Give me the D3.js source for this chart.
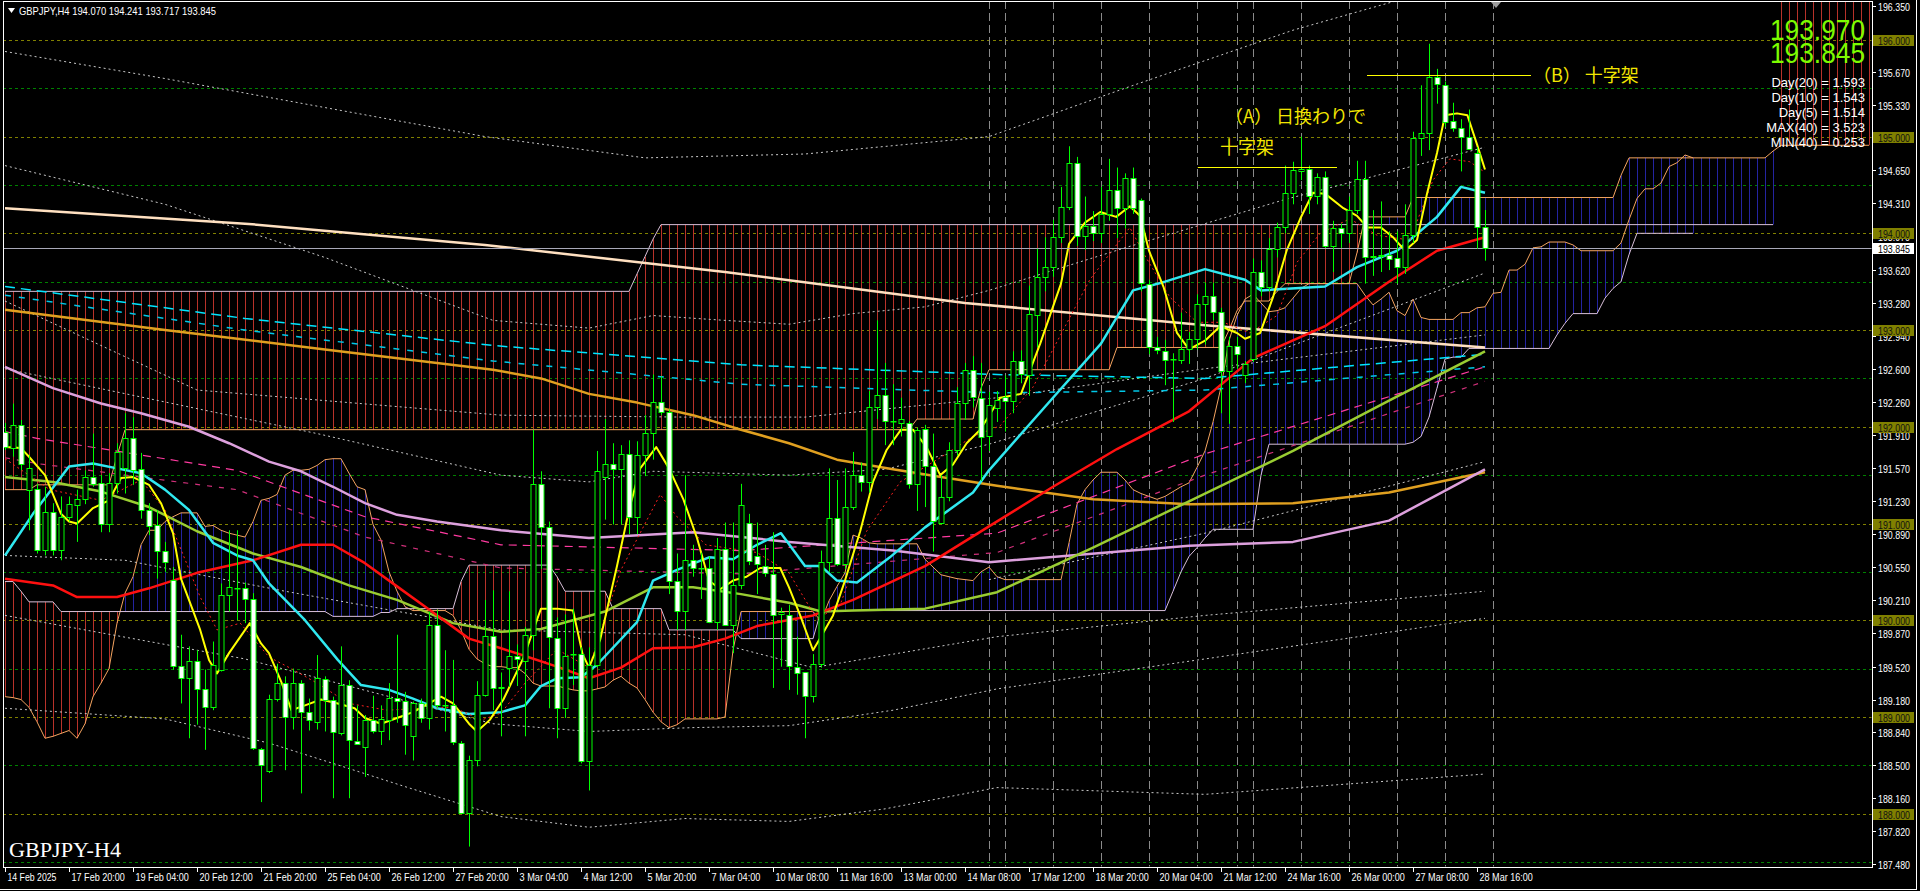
<!DOCTYPE html>
<html><head><meta charset="utf-8">
<script src="https://cdn.jsdelivr.net/npm/d3@7"></script>
<style>html,body{margin:0;padding:0;background:#000;overflow:hidden}</style>
</head><body><svg id="c" width="1920" height="891"></svg>
<script>
// ---------------- DATA ----------------
const opens=[191.95,191.78,192.02,191.35,191.36,190.73,191.12,190.73,191.07,191.19,191.25,191.48,191.42,191.00,191.42,191.57,191.88,191.56,191.14,190.98,190.72,190.42,189.53,189.40,189.58,189.29,189.10,189.49,190.26,190.33,190.33,190.22,188.67,188.44,189.19,189.35,189.00,189.35,189.05,188.95,189.39,189.18,188.83,189.33,188.75,188.69,188.97,188.85,188.97,189.20,189.17,188.80,189.14,188.99,189.95,189.12,189.12,188.73,188.01,188.56,189.23,189.84,189.30,189.51,189.63,189.58,189.85,191.41,190.96,189.82,189.09,189.65,189.65,188.54,189.54,191.48,191.62,191.56,191.72,191.07,191.71,191.94,192.26,192.15,190.41,190.10,190.62,190.54,190.54,189.98,190.74,189.95,190.36,191.01,190.66,190.56,190.48,190.06,190.05,189.52,189.46,189.22,189.55,190.60,191.06,190.58,191.17,191.50,191.43,192.20,192.33,192.06,192.04,192.04,191.41,191.98,191.59,191.01,191.27,191.76,192.25,192.59,192.30,191.90,192.19,192.31,192.27,192.68,192.54,193.16,193.55,193.65,193.96,194.27,194.73,193.97,194.08,194.00,194.20,194.45,194.26,194.57,194.34,193.48,192.82,192.78,192.70,192.69,192.80,192.91,193.27,193.35,193.19,192.58,192.83,192.54,192.70,193.60,193.44,193.84,194.07,194.42,194.64,194.66,194.39,194.58,193.87,194.05,194.00,194.24,194.56,193.76,193.77,193.78,193.74,193.65,193.98,194.99,195.04,195.62,195.53,195.16,195.09,195.00,194.83,194.070];
const highs=[192.04,192.24,192.07,191.71,191.41,191.38,191.21,191.28,191.28,191.35,191.55,191.93,191.50,191.52,191.83,192.14,192.10,191.73,191.21,191.14,190.81,190.55,189.85,189.73,189.69,189.49,189.78,190.38,190.93,190.93,190.39,190.28,188.68,189.23,189.55,189.42,189.50,189.38,189.19,189.64,189.42,189.21,189.73,189.38,189.12,189.02,189.22,189.12,189.35,189.85,189.26,189.16,189.19,190.09,190.11,189.69,189.59,188.75,188.60,189.37,190.21,190.31,189.46,190.30,189.75,189.93,191.97,191.54,191.02,190.03,190.06,190.12,189.72,189.72,191.75,192.08,191.83,191.81,191.86,191.85,192.12,192.54,192.52,192.18,190.69,191.50,190.78,190.70,190.66,190.85,191.01,191.01,191.41,191.10,191.01,190.78,190.91,190.13,190.16,189.83,189.46,189.65,190.72,191.57,191.45,191.57,191.74,191.63,192.37,193.10,192.66,192.44,192.30,192.06,191.99,192.02,191.93,191.50,191.84,192.41,192.66,192.73,192.66,192.36,192.37,192.53,192.78,192.79,193.46,193.84,193.96,194.14,194.48,194.90,194.79,194.38,194.23,194.48,194.77,194.68,194.62,194.68,194.36,193.52,192.93,192.90,192.76,193.18,192.98,193.37,193.49,193.49,193.23,192.93,192.93,192.68,193.74,193.72,193.95,194.11,194.70,194.74,195.00,194.70,194.62,194.64,194.13,194.10,194.38,194.75,194.75,194.24,194.33,194.02,194.02,194.30,195.05,195.53,195.96,195.70,195.57,195.35,195.18,195.28,194.89,194.241];
const lows=[191.76,191.69,191.55,190.93,190.69,190.67,190.67,190.62,191.02,190.81,191.20,191.38,190.91,190.91,191.31,191.31,191.40,191.05,190.88,190.43,190.50,189.49,189.14,188.78,188.92,188.66,189.07,189.47,190.09,190.00,189.97,188.66,188.12,188.42,189.16,188.45,188.87,188.21,188.86,188.87,188.85,188.16,188.81,188.16,188.71,188.38,188.83,188.71,188.76,188.94,188.61,188.55,188.94,188.87,189.09,188.85,188.71,188.00,187.66,188.49,189.21,189.07,188.80,189.31,189.32,188.80,189.69,190.53,189.09,188.78,188.99,189.33,188.52,188.24,189.51,191.04,190.99,190.99,190.89,190.89,191.49,191.66,192.12,190.27,189.90,189.90,190.45,190.22,189.97,189.90,189.94,189.66,190.32,190.57,190.27,190.45,189.30,189.52,189.28,189.23,188.78,189.15,189.51,190.50,190.56,190.53,191.14,191.33,191.32,192.08,191.81,191.81,191.90,191.36,191.13,191.17,190.71,190.99,191.23,191.70,192.07,192.20,191.44,191.75,192.05,191.95,192.14,192.45,192.32,192.82,193.40,193.55,193.90,194.24,193.87,193.83,193.92,193.90,194.13,193.95,194.05,194.20,193.40,192.75,192.75,192.43,192.05,192.65,192.65,192.80,192.85,193.10,192.14,192.03,192.60,192.45,192.67,193.35,193.40,193.75,194.00,194.30,194.55,194.20,194.30,193.85,193.60,193.85,193.90,194.20,193.48,193.56,193.60,193.62,193.48,193.58,193.90,194.80,194.86,195.34,195.10,195.05,194.64,194.90,193.84,193.717];
const closes=[191.79,192.02,191.62,191.57,190.73,191.12,190.73,191.07,191.20,191.25,191.48,191.41,191.00,191.42,191.74,191.88,191.55,191.14,190.97,190.72,190.60,189.53,189.40,189.58,189.29,189.10,189.54,190.26,190.34,190.33,190.22,188.68,188.50,189.19,189.35,189.00,189.35,189.05,188.97,189.40,189.18,188.84,189.33,188.76,188.72,188.97,188.85,188.98,189.20,189.17,188.92,189.14,188.99,189.95,189.12,189.12,188.74,188.01,188.56,189.23,189.84,189.30,189.31,189.63,189.60,189.85,191.41,190.96,189.83,189.09,189.63,189.65,188.54,189.54,191.54,191.62,191.56,191.72,191.07,191.71,191.94,192.26,192.15,190.41,190.10,190.62,190.54,190.54,189.98,190.74,189.95,190.36,191.19,190.61,190.58,190.49,190.05,190.09,189.53,189.45,189.22,189.55,190.60,191.06,190.58,191.17,191.50,191.43,192.20,192.33,192.06,192.06,192.08,191.41,191.97,191.59,191.03,191.27,191.76,192.25,192.59,192.31,191.89,192.23,192.28,192.27,192.68,192.55,193.17,193.55,193.65,193.96,194.27,194.73,193.97,194.08,194.00,194.20,194.45,194.26,194.57,194.26,193.49,192.82,192.79,192.69,192.70,192.80,192.91,193.27,193.35,193.19,192.58,192.83,192.75,192.65,193.60,193.44,193.84,194.07,194.42,194.65,194.67,194.39,194.58,193.87,194.06,194.00,194.24,194.56,193.76,193.77,193.78,193.73,193.65,193.98,194.99,195.04,195.62,195.54,195.15,195.09,195.00,194.87,194.07,193.845];

const timeLabels=["14 Feb 2025","17 Feb 20:00","19 Feb 04:00","20 Feb 12:00","21 Feb 20:00","25 Feb 04:00","26 Feb 12:00","27 Feb 20:00","3 Mar 04:00","4 Mar 12:00","5 Mar 20:00","7 Mar 04:00","10 Mar 08:00","11 Mar 16:00","13 Mar 00:00","14 Mar 08:00","17 Mar 12:00","18 Mar 20:00","20 Mar 04:00","21 Mar 12:00","24 Mar 16:00","26 Mar 00:00","27 Mar 08:00","28 Mar 16:00"];
const timeLabelBars=[0,8,16,24,32,40,48,56,64,72,80,88,96,104,112,120,128,136,144,152,160,168,176,184];
const separatorBars=[123,125,131,137,143,149,154,156,162,168,174,180,186];

const priceTicks=[196.350,195.670,195.330,194.650,194.310,193.970,193.620,193.280,192.940,192.600,192.260,191.910,191.570,191.230,190.890,190.550,190.210,189.870,189.520,189.180,188.840,188.500,188.160,187.820,187.480];
const levelTicks=[196,195,194,193,192,191,190,189,188];
const halfLevels=[195.5,194.5,193.5,192.5,191.5,190.5,189.5,188.5,187.5];
const lastPrice=193.845;

// moving averages: [bar index, price]
const maYellow=[[0,191.79],[2,191.78],[3,191.69],[5,191.5],[7,191.1],[8,191.02],[9,191.0],[11,191.16],[13,191.24],[14.5,191.47],[16,191.48],[18,191.4],[19.5,191.21],[21,190.9],[22,190.43],[24.4,189.9],[25.5,189.59],[26.5,189.45],[28,189.66],[30.6,189.97],[32,189.76],[33,189.66],[34.6,189.35],[35.8,189.07],[37.5,189.12],[39.5,189.18],[41.6,189.14],[43.7,189.09],[45,188.99],[47,188.93],[49,188.99],[51,189.05],[53,189.14],[54.5,189.21],[56,189.14],[58,188.93],[59,188.85],[60.6,188.97],[62.3,189.18],[64.8,189.61],[67,190.12],[69,190.12],[71,190.1],[72.2,189.65],[73,189.51],[74.4,189.8],[76.5,190.56],[78,191.14],[79.4,191.57],[81.4,191.79],[83,191.57],[84.8,191.25],[86.5,190.85],[88,190.41],[89.4,190.32],[91,190.41],[92.7,190.45],[94.4,190.54],[96.9,190.54],[98,190.34],[99.4,190.05],[101,189.69],[102,189.83],[103.5,190.05],[105,190.41],[106.9,190.92],[108.5,191.43],[110.2,191.76],[112,191.97],[113.5,191.97],[115.2,191.79],[116.9,191.5],[118.5,191.61],[120.2,191.83],[121.9,191.97],[124.4,192.3],[127,192.34],[129.4,192.86],[132,193.48],[133,193.89],[135,194.11],[136.9,194.22],[138.9,194.17],[140.6,194.28],[141.9,194.18],[143,193.82],[144.8,193.45],[146.5,192.97],[148,192.8],[150,192.89],[151.9,193.04],[154,192.97],[155,192.91],[156.9,192.97],[158.5,193.34],[160.2,193.82],[161.9,194.15],[163.5,194.42],[165,194.41],[167.3,194.26],[169,194.18],[170.3,194.06],[172,194.06],[173.5,193.96],[175,193.82],[176.5,193.93],[177.7,194.39],[179,194.83],[180,195.22],[181.5,195.24],[182.8,195.22],[184,194.92],[185,194.66]];
const maRedDot=[[0,191.67],[5.6,191.35],[12,191.24],[17,191.45],[20,191.14],[24.4,190.24],[26.5,189.9],[29.4,189.97],[33,189.62],[36,189.49],[39,189.35],[43,189.14],[47.8,189.07],[52,189.09],[56,189.1],[59.6,188.97],[62,189.04],[65,189.35],[69,189.7],[73,189.51],[77,190.52],[81.9,191.3],[84,191.07],[87.6,190.78],[94,190.7],[98,190.49],[101.5,190.01],[104.4,190.16],[107.7,190.92],[111.9,191.43],[116.9,191.68],[121,191.9],[124.4,192.01],[128.5,192.41],[135.6,193.52],[140.6,194.06],[142.7,193.74],[145.6,193.34],[149,193.08],[152.3,193.08],[155.6,192.97],[159,193.15],[161.5,193.7],[164.4,194.0],[168.1,194.15],[171.5,193.98],[175.6,193.93],[178.5,194.55],[180.6,194.77],[183.1,194.74],[185,194.63]];
const maCyan=[[0,190.67],[3.5,191.1],[8,191.59],[11,191.62],[14,191.57],[17,191.52],[20,191.35],[23,191.14],[26,190.8],[29,190.67],[31,190.62],[33,190.38],[37.5,190.0],[41.6,189.59],[44.5,189.33],[48,189.28],[51,189.19],[54,189.09],[58,189.03],[62,189.05],[65,189.12],[67,189.32],[69,189.4],[72,189.41],[74,189.54],[79,189.98],[81,190.41],[84,190.52],[88,190.65],[91,190.63],[94,190.78],[97,190.9],[100,190.56],[102,190.56],[104,190.41],[106.5,190.39],[110.6,190.65],[115,190.96],[121,191.32],[123,191.55],[131,192.3],[137,192.86],[141,193.41],[145,193.5],[150,193.63],[155,193.52],[157,193.41],[165,193.45],[169,193.65],[174,193.82],[179,194.17],[182,194.48],[185,194.42]];
const maRed=[[0,190.43],[6,190.36],[9,190.24],[14,190.24],[18,190.33],[24,190.49],[31,190.62],[37,190.78],[41,190.78],[45,190.59],[49,190.35],[53,190.11],[58,189.81],[62,189.71],[65,189.63],[69,189.52],[73,189.4],[77,189.51],[81,189.71],[86,189.72],[90,189.81],[94,189.94],[101,190.05],[106,190.21],[115,190.56],[123,190.97],[131,191.38],[139,191.77],[148,192.16],[156,192.71],[165,193.04],[173,193.5],[179,193.82],[185,193.96]];
const maGreen=[[0,191.48],[6,191.43],[12,191.33],[18,191.17],[24,190.92],[31,190.69],[37,190.55],[43,190.36],[49,190.21],[56,189.97],[62,189.88],[67,189.91],[71,190.0],[75,190.09],[81,190.34],[86,190.34],[92,190.27],[98,190.18],[102,190.09],[106,190.1],[115,190.12],[124,190.29],[136,190.75],[148,191.23],[161,191.75],[173,192.27],[185,192.78]];
const maPlum=[[0,192.62],[6,192.4],[12,192.24],[17,192.14],[23,192.0],[28,191.83],[33,191.64],[37,191.54],[41,191.38],[45,191.21],[49,191.09],[54,191.02],[62,190.93],[73,190.85],[86,190.91],[98,190.81],[111,190.72],[123,190.6],[148,190.77],[161,190.81],[173,191.03],[185,191.56]];
const maOrange=[[0,193.21],[20,193.0],[40,192.8],[61,192.59],[67,192.5],[73,192.34],[79,192.25],[86,192.12],[92,191.97],[98,191.83],[104,191.66],[111,191.56],[117,191.48],[124,191.39],[136,191.25],[148,191.2],[161,191.21],[173,191.32],[185,191.53]];
const maCream=[[0,194.26],[30,194.1],[60,193.88],[90,193.6],[120,193.28],[150,193.05],[185,192.82]];
const maCyanDashA=[[0,193.45],[30,193.12],[61,192.84],[92,192.64],[124,192.54],[150,192.5],[185,192.75]];
const maCyanDashB=[[0,193.36],[30,193.0],[61,192.68],[92,192.44],[124,192.35],[150,192.38],[185,192.62]];
const maPinkDashA=[[0,191.95],[4,191.88],[29,191.55],[45,191.07],[62,190.78],[92,190.72],[124,190.9],[150,191.72],[185,192.62]];
const maPinkDashB=[[0,191.68],[4,191.62],[29,191.35],[45,190.86],[62,190.54],[92,190.48],[124,190.7],[150,191.5],[185,192.47]];
// deviation bands (dotted)
const band1=[[0,195.88],[20,195.6],[40,195.3],[60,195.0],[80,194.78],[100,194.82],[123,195.0],[140,195.5],[161,196.1],[178,196.5]];
const band2=[[0,194.7],[20,194.3],[40,193.75],[61,193.1],[73,193.02],[81,193.15],[90,193.1],[98,193.06],[106,193.17],[115,193.24],[123,193.41],[140,193.85],[160,194.35],[185,194.89]];
const band3=[[0,193.3],[24,192.38],[62,192.12],[85,192.1],[100,192.1],[124,192.3],[150,192.6],[185,192.95]];
const band4=[[0,192.6],[39,191.93],[62,191.5],[73,191.43],[81,191.54],[98,191.5],[110,191.56],[123,191.82],[150,192.5],[185,193.59]];
const band5=[[0,190.67],[15,190.62],[35,190.3],[62,189.9],[85,189.85],[101,189.51],[124,189.83],[150,190.05],[185,190.3]];
const band6=[[0,190.05],[30,189.6],[61,188.93],[73,188.85],[86,188.89],[98,188.91],[111,189.07],[124,189.29],[150,189.6],[185,190.02]];
const band7=[[0,189.09],[20,188.98],[33,188.73],[41,188.52],[50,188.28],[62,187.97],[73,187.86],[85,187.95],[98,187.92],[110,188.05],[124,188.27],[150,188.2],[185,188.41]];
const band8=[[123,190.42],[150,190.9],[185,191.64]];

// Ichimoku (H4) spans, one value per bar (incl. 26 bars shifted ahead)
const smallSpanA=[189.21,189.20,189.18,189.10,188.95,188.78,188.80,188.83,188.86,188.78,188.93,189.21,189.35,189.50,189.97,190.28,190.45,190.78,190.93,190.93,191.02,191.07,191.11,191.11,191.11,190.97,190.98,190.93,190.90,190.88,190.86,191.02,191.24,191.26,191.30,191.50,191.55,191.55,191.56,191.60,191.66,191.67,191.67,191.52,191.38,191.35,190.99,190.83,190.50,190.30,190.14,190.10,190.10,190.10,190.10,190.10,190.05,189.90,189.70,189.60,189.55,189.52,189.52,189.51,189.51,189.45,189.35,189.32,189.32,189.32,189.30,189.28,189.27,189.27,189.29,189.31,189.38,189.42,189.35,189.30,189.18,189.05,188.95,188.89,188.92,188.98,188.98,188.98,188.98,188.98,189.00,189.69,190.09,190.09,190.09,190.09,190.09,190.09,190.09,190.09,190.09,190.09,189.99,190.20,190.35,190.49,190.88,190.85,190.80,190.79,190.79,190.79,190.79,190.79,190.79,190.63,190.55,190.47,190.45,190.43,190.42,190.41,190.50,190.55,190.45,190.42,190.42,190.42,190.42,190.42,190.42,190.42,190.42,190.80,191.20,191.35,191.45,191.53,191.53,191.53,191.45,191.35,191.31,191.28,191.25,191.28,191.33,191.38,191.42,191.58,191.75,192.05,192.41,192.89,193.15,193.32,193.37,193.28,193.19,193.20,193.23,193.33,193.43,193.48,193.48,193.48,193.48,193.48,193.48,193.48,193.36,193.26,193.32,193.39,193.20,193.15,193.32,193.13,193.11,193.11,193.11,193.11,193.18,193.18,193.23,193.24,193.38,193.39,193.62,193.62,193.68,193.85,193.86,193.91,193.91,193.91,193.88,193.82,193.82,193.82,193.82,193.82,193.90,194.14,194.36,194.46,194.46,194.52,194.69,194.73,194.81,194.78];
const smallSpanB=[190.40,190.40,190.30,190.19,190.19,190.19,190.19,190.09,190.09,190.09,190.09,190.09,190.09,190.09,190.09,190.09,190.09,190.09,190.09,190.09,190.09,190.09,190.09,190.09,190.09,190.09,190.09,190.09,190.09,190.09,190.09,190.09,190.09,190.09,190.09,190.09,190.09,190.09,190.09,190.09,190.09,190.04,190.04,190.04,190.04,190.04,190.04,190.08,190.08,190.12,190.12,190.12,190.12,190.12,190.12,190.12,190.12,190.40,190.57,190.57,190.57,190.57,190.57,190.57,190.57,190.57,190.57,190.57,190.57,190.45,190.30,190.30,190.30,190.30,190.30,190.30,190.12,190.12,190.12,190.12,190.12,190.12,190.12,189.90,189.90,189.90,189.90,189.90,189.90,189.90,189.90,189.90,189.81,189.81,189.81,189.81,189.81,189.81,189.81,189.81,189.81,189.81,190.10,190.10,190.10,190.10,190.10,190.10,190.10,190.10,190.10,190.10,190.10,190.10,190.10,190.10,190.10,190.10,190.10,190.10,190.10,190.10,190.10,190.10,190.10,190.10,190.10,190.10,190.10,190.10,190.10,190.10,190.10,190.10,190.10,190.10,190.10,190.10,190.10,190.10,190.10,190.10,190.10,190.10,190.10,190.10,190.30,190.50,190.66,190.75,190.85,190.94,190.94,190.94,190.94,190.94,190.94,191.50,191.82,191.82,191.82,191.82,191.82,191.82,191.82,191.82,191.82,191.82,191.82,191.82,191.82,191.82,191.82,191.82,191.82,191.82,191.84,191.90,192.10,192.40,192.70,192.72,192.72,192.81,192.81,192.81,192.81,192.81,192.81,192.81,192.81,192.81,192.81,192.81,192.95,193.07,193.17,193.17,193.17,193.17,193.33,193.43,193.50,193.78,194.00,194.00,194.00,194.00,194.00,194.00,194.00,194.00];
// Ichimoku (higher timeframe) spans, one value per bar
const bigSpanA=[191.35,191.35,191.35,191.35,191.40,191.40,191.40,191.40,191.40,191.40,191.40,191.40,191.40,191.40,191.70,191.97,191.97,191.97,191.97,191.97,191.97,191.97,191.97,191.97,191.97,191.97,191.97,191.97,191.97,191.97,191.97,191.97,191.97,191.97,191.97,191.97,191.97,191.97,191.97,191.97,191.97,191.97,191.97,191.97,191.97,191.97,191.97,191.97,191.97,191.97,191.97,191.97,191.97,191.97,191.97,191.97,191.97,191.97,191.97,191.97,191.97,191.97,191.97,191.97,191.97,191.97,191.97,191.97,191.97,191.97,191.97,191.97,191.97,191.97,191.97,191.97,191.97,191.97,191.97,191.97,191.97,191.97,191.97,191.97,191.97,191.97,191.97,191.97,191.97,191.97,191.97,191.97,191.97,191.97,191.97,191.97,191.97,191.97,191.97,191.97,191.97,191.97,191.97,191.97,191.97,191.97,191.97,191.97,191.97,191.97,191.97,191.97,191.97,191.97,192.08,192.08,192.08,192.08,192.08,192.08,192.08,192.08,192.40,192.59,192.59,192.59,192.59,192.59,192.59,192.59,192.59,192.59,192.59,192.59,192.59,192.59,192.59,192.59,192.59,192.82,192.82,192.82,192.82,192.82,192.82,192.82,192.82,192.82,192.82,192.82,192.82,192.82,192.82,193.00,193.20,193.30,193.30,193.30,193.30,193.40,193.48,193.48,193.48,193.48,193.48,193.48,193.48,193.48,193.48,193.80,194.17,194.17,194.17,194.17,194.17,194.17,194.37,194.37,194.37,194.37,194.37,194.37,194.37,194.37,194.37,194.37,194.37,194.37,194.37,194.37,194.37,194.37,194.37,194.37,194.37,194.37,194.37,194.37,194.37,194.37,194.37,194.37,194.60,194.78,194.78,194.78,194.78,194.78,194.78,194.78,194.78,194.78,194.78,194.78,194.78,194.78,194.78,194.78,194.78,194.78,194.78,194.85,194.91,194.91,194.91,194.91,194.91,194.91,194.91,194.91,194.91,194.91,194.91,194.91];
const bigSpanB=[193.40,193.40,193.40,193.40,193.40,193.40,193.40,193.40,193.40,193.40,193.40,193.40,193.40,193.40,193.40,193.40,193.40,193.40,193.40,193.40,193.40,193.40,193.40,193.40,193.40,193.40,193.40,193.40,193.40,193.40,193.40,193.40,193.40,193.40,193.40,193.40,193.40,193.40,193.40,193.40,193.40,193.40,193.40,193.40,193.40,193.40,193.40,193.40,193.40,193.40,193.40,193.40,193.40,193.40,193.40,193.40,193.40,193.40,193.40,193.40,193.40,193.40,193.40,193.40,193.40,193.40,193.40,193.40,193.40,193.40,193.40,193.40,193.40,193.40,193.40,193.40,193.40,193.40,193.40,193.58,193.76,193.94,194.09,194.09,194.09,194.09,194.09,194.09,194.09,194.09,194.09,194.09,194.09,194.09,194.09,194.09,194.09,194.09,194.09,194.09,194.09,194.09,194.09,194.09,194.09,194.09,194.09,194.09,194.09,194.09,194.09,194.09,194.09,194.09,194.09,194.09,194.09,194.09,194.09,194.09,194.09,194.09,194.09,194.09,194.09,194.09,194.09,194.09,194.09,194.09,194.09,194.09,194.09,194.09,194.09,194.09,194.09,194.09,194.09,194.09,194.09,194.09,194.09,194.09,194.09,194.09,194.09,194.09,194.09,194.09,194.09,194.09,194.09,194.09,194.09,194.09,194.09,194.09,194.09,194.09,194.09,194.09,194.09,194.09,194.09,194.09,194.09,194.09,194.09,194.09,194.09,194.09,194.09,194.09,194.09,194.09,194.09,194.09,194.09,194.09,194.09,194.09,194.09,194.09,194.09,194.09,194.09,194.09,194.09,194.09,194.09,194.09,194.09,194.09,194.09,194.09,194.09,194.09,194.09,194.09,194.09,194.09,194.09,194.09,194.09,194.09,194.09,194.09,194.09,194.09,194.09,194.09,194.09,194.09,194.09,194.09,194.09,194.09,194.09,194.09,194.09,194.09];

// annotations: [startBar, endBar, price]
const annotLines=[[149.1,166.5,194.69],[170.25,190.75,195.637]];
const infoLines=["Day(20) = 1.593","Day(10) = 1.543","Day(5) = 1.514","MAX(40) = 3.523","MIN(40) = 0.253"];
const bigPrices=["193.970","193.845"];
const headerText="GBPJPY,H4  194.070 194.241 193.717 193.845";

// ---------------- DRAW ----------------
const W=1920,H=891,L=3,R=1872,T=1,B=867;
const x=d3.scaleLinear().domain([0,1]).range([5,13]);
const y=d3.scaleLinear().domain([187.48,196.35]).range([864,6]);
const svg=d3.select('#c');
svg.append('rect').attr('width',W).attr('height',H).attr('fill','#000');
svg.append('defs').append('clipPath').attr('id','clip').append('rect')
  .attr('x',L+0.5).attr('y',T+0.5).attr('width',R-L-1).attr('height',B-T-1);
const g=svg.append('g').attr('clip-path','url(#clip)');
const px=v=>Math.round(x(v))+0.5;
const py=v=>Math.round(y(v))+0.5;

levelTicks.forEach(v=>g.append('line').attr('x1',L).attr('x2',R).attr('y1',py(v)).attr('y2',py(v))
  .attr('stroke','#808000').attr('stroke-dasharray','3,3'));
halfLevels.forEach(v=>g.append('line').attr('x1',L).attr('x2',R).attr('y1',py(v)).attr('y2',py(v))
  .attr('stroke','#008000').attr('stroke-dasharray','3,3'));
separatorBars.forEach(b=>g.append('line').attr('x1',px(b)).attr('x2',px(b)).attr('y1',T).attr('y2',B)
  .attr('stroke','#8a8a8a').attr('stroke-dasharray','8,4'));

function cloud(A,Bv,up,down){
  A.forEach((a,i)=>{
    const b=Bv[i];
    g.append('line').attr('x1',px(i)).attr('x2',px(i)).attr('y1',y(a)).attr('y2',y(b))
      .attr('stroke',a>=b?up:down).attr('stroke-width',1);
  });
}
cloud(bigSpanA,bigSpanB,'#2424a0','#b8322a');
cloud(smallSpanA,smallSpanB,'#2424a0','#b8322a');
const idxLine=d3.line().x((d,i)=>x(i)).y(d=>y(d));
[[bigSpanA,'#f4a460'],[bigSpanB,'#d8bfd8'],[smallSpanA,'#f4a460'],[smallSpanB,'#d8bfd8']].forEach(([arr,c])=>
  g.append('path').attr('d',idxLine(arr)).attr('fill','none').attr('stroke',c).attr('stroke-width',1));

const pl=d3.line().x(d=>x(d[0])).y(d=>y(d[1]));
function drawLine(arr,c,w,dash){
  const p=g.append('path').attr('d',pl(arr)).attr('fill','none').attr('stroke',c).attr('stroke-width',w)
    .attr('stroke-linejoin','round');
  if(dash)p.attr('stroke-dasharray',dash);
}
[band1,band2,band3,band4,band5,band6,band7,band8].forEach(b=>drawLine(b,'#c8c8c8',1,'2,3'));
drawLine(maCyanDashA,'#00e5ff',1.5,'10,6');
drawLine(maCyanDashB,'#00c8e8',1.5,'6,8');
drawLine(maPinkDashA,'#ff3aa0',1.2,'8,6');
drawLine(maPinkDashB,'#d0307a',1.2,'5,7');
drawLine(maCream,'#ffe0c0',2.5);
drawLine(maOrange,'#e0a020',2.5);
drawLine(maPlum,'#dda0dd',2.5);
drawLine(maGreen,'#9acd32',2.5);
drawLine(maRed,'#ff1010',2.5);
drawLine(maCyan,'#30e8f0',2.5);
drawLine(maRedDot,'#ff2020',1,'2,3');
drawLine(maYellow,'#ffff00',2);

g.append('line').attr('x1',L).attr('x2',R).attr('y1',py(lastPrice)).attr('y2',py(lastPrice))
  .attr('stroke','#a8a8b8').attr('stroke-width',1);

closes.forEach((c,i)=>{
  const o=opens[i],h=highs[i],l=lows[i];
  const cx=px(i);
  g.append('line').attr('x1',cx).attr('x2',cx).attr('y1',y(h)).attr('y2',y(l)).attr('stroke','#00ff00');
  const top=Math.round(y(Math.max(o,c))),bot=Math.round(y(Math.min(o,c)));
  g.append('rect').attr('x',cx-2.5).attr('y',top+0.5).attr('width',5).attr('height',Math.max(0.5,bot-top))
    .attr('fill',c<o?'#ffffff':'#000000').attr('stroke','#00ff00').attr('stroke-width',1);
});

annotLines.forEach(a=>g.append('line').attr('x1',x(a[0])).attr('x2',x(a[1])).attr('y1',py(a[2])).attr('y2',py(a[2]))
  .attr('stroke','#ffff00').attr('stroke-width',1));
const jp="'Noto Sans CJK JP','Noto Sans CJK SC',sans-serif";
g.append('text').attr('x',1225).attr('y',123).attr('fill','#f2e600').attr('font-family',jp).attr('font-size',18).text('（A） 日換わりで');
g.append('text').attr('x',1220).attr('y',154).attr('fill','#f2e600').attr('font-family',jp).attr('font-size',18).text('十字架');
g.append('text').attr('x',1533).attr('y',82).attr('fill','#f2e600').attr('font-family',jp).attr('font-size',18).text('（B） 十字架');

const sans="'Liberation Sans',Arial,sans-serif";
bigPrices.forEach((t,k)=>g.append('text').attr('x',1865).attr('y',40+k*23).attr('text-anchor','end')
  .attr('fill','#7cfc00').attr('font-family',sans).attr('font-size',29).attr('textLength',95).attr('lengthAdjust','spacingAndGlyphs').text(t));
infoLines.forEach((t,k)=>g.append('text').attr('x',1865).attr('y',87+k*15).attr('text-anchor','end')
  .attr('fill','#ffffff').attr('font-family',sans).attr('font-size',13).text(t));

svg.append('path').attr('d','M8,8 L15,8 L11.5,13 Z').attr('fill','#fff');
svg.append('text').attr('x',19).attr('y',15).attr('fill','#fff').attr('font-family',sans).attr('font-size',11)
  .attr('textLength',197).attr('lengthAdjust','spacingAndGlyphs').text(headerText);
svg.append('text').attr('x',9).attr('y',857).attr('fill','#fff').attr('font-family',"'Liberation Serif',serif")
  .attr('font-size',21).attr('textLength',112).attr('lengthAdjust','spacingAndGlyphs').text('GBPJPY-H4');
svg.append('path').attr('d','M1491,2 L1501,2 L1496,8 Z').attr('fill','#9a9a9a');

svg.append('rect').attr('x',L+0.5).attr('y',T+0.5).attr('width',R-L).attr('height',B-T).attr('fill','none').attr('stroke','#fff');
svg.append('line').attr('x1',0).attr('x2',1916).attr('y1',889.5).attr('y2',889.5).attr('stroke','#fff');
svg.append('line').attr('x1',1916.5).attr('x2',1916.5).attr('y1',0).attr('y2',890).attr('stroke','#fff');

timeLabelBars.forEach((b,k)=>{
  const xx=px(b);
  svg.append('line').attr('x1',xx).attr('x2',xx).attr('y1',B).attr('y2',B+5).attr('stroke','#fff');
  svg.append('text').attr('x',xx+2).attr('y',B+14).attr('fill','#fff').attr('font-family',sans).attr('font-size',10.5)
    .attr('textLength',timeLabels[k].length*4.45).attr('lengthAdjust','spacingAndGlyphs').text(timeLabels[k]);
});
priceTicks.forEach(v=>{
  svg.append('line').attr('x1',R).attr('x2',R+4).attr('y1',py(v)).attr('y2',py(v)).attr('stroke','#fff');
  svg.append('text').attr('x',1878).attr('y',py(v)+4).attr('fill','#fff').attr('font-family',sans).attr('font-size',10.5)
    .attr('textLength',32).attr('lengthAdjust','spacingAndGlyphs').text(v.toFixed(3));
});
levelTicks.forEach(v=>{
  svg.append('rect').attr('x',1873).attr('y',py(v)-5.5).attr('width',41).attr('height',11).attr('fill','#808000');
  svg.append('text').attr('x',1878).attr('y',py(v)+4).attr('fill','#111').attr('font-family',sans).attr('font-size',10.5)
    .attr('textLength',32).attr('lengthAdjust','spacingAndGlyphs').text(v.toFixed(3));
});
svg.append('rect').attr('x',1873).attr('y',py(lastPrice)-5.5).attr('width',41).attr('height',11).attr('fill','#fff');
svg.append('text').attr('x',1878).attr('y',py(lastPrice)+4).attr('fill','#000').attr('font-family',sans).attr('font-size',10.5)
  .attr('textLength',32).attr('lengthAdjust','spacingAndGlyphs').text(lastPrice.toFixed(3));
</script></body></html>
